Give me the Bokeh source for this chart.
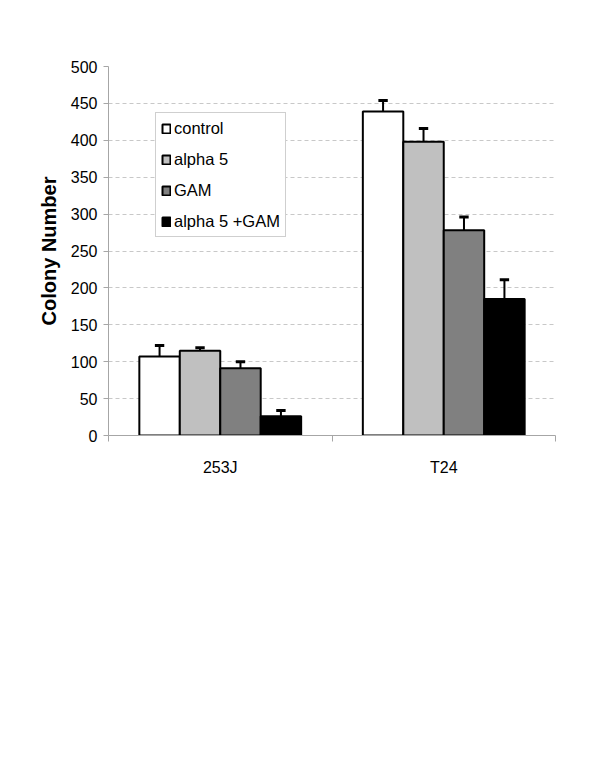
from bokeh.plotting import figure
from bokeh.models import FixedTicker, Legend, LegendItem, Range1d
from bokeh.embed import file_html
from bokeh.resources import INLINE

# ---- data ----
categories = ["253J", "T24"]
series_names = ["control", "alpha 5", "GAM", "alpha 5 +GAM"]
control_vals = [107, 439]
alpha5_vals = [115, 398]
gam_vals = [91, 278]
combo_vals = [26, 185]
control_err = [15, 15]
alpha5_err = [4, 18]
gam_err = [9, 18]
combo_err = [8, 26]
y_ticks = [0, 50, 100, 150, 200, 250, 300, 350, 400, 450, 500]

values = [control_vals, alpha5_vals, gam_vals, combo_vals]
errors = [control_err, alpha5_err, gam_err, combo_err]
colors = ["#FFFFFF", "#C0C0C0", "#808080", "#000000"]

FONT = "Liberation Sans"
AX = "#A6A6A6"

p = figure(width=592, height=507,
           x_range=Range1d(0, len(categories)), y_range=Range1d(0, 500),
           output_backend="svg", toolbar_location=None,
           min_border_left=108, min_border_right=37,
           min_border_top=66, min_border_bottom=72)
p.outline_line_color = None
p.background_fill_color = "white"
p.border_fill_color = "white"

bar_w = 0.181
offsets = [-1.5 * bar_w, -0.5 * bar_w, 0.5 * bar_w, 1.5 * bar_w]
cap = 0.021

items = []
for k, name in enumerate(series_names):
    xs = [i + 0.5 + offsets[k] for i in range(len(categories))]
    tops = [v + e for v, e in zip(values[k], errors[k])]
    p.segment(x0=xs, y0=values[k], x1=xs, y1=tops, line_color="black", line_width=2)
    p.segment(x0=[x - cap for x in xs], y0=tops, x1=[x + cap for x in xs], y1=tops,
              line_color="black", line_width=3)
    r = p.vbar(x=xs, top=values[k], bottom=0, width=bar_w,
               fill_color=colors[k], line_color="black", line_width=2)
    items.append(LegendItem(label=name, renderers=[r]))

legend = Legend(items=items, location=(47, 198))
legend.label_text_font = FONT
legend.label_text_font_size = "16.5px"
legend.label_text_color = "black"
legend.glyph_width = 10
legend.glyph_height = 11
legend.label_height = 20
legend.label_standoff = 3
legend.spacing = 11
legend.padding = 5
legend.margin = 0
legend.border_line_color = "#A0A0A0"
legend.border_line_width = 1
legend.background_fill_color = "white"
legend.background_fill_alpha = 1
p.add_layout(legend)

# grid
p.xgrid.visible = False
p.ygrid.ticker = FixedTicker(ticks=y_ticks)
p.ygrid.grid_line_color = "#C8C8C8"
p.ygrid.grid_line_dash = "4 3"
p.ygrid.grid_line_width = 1

# y axis
ya = p.yaxis[0]
ya.ticker = FixedTicker(ticks=y_ticks)
ya.axis_line_color = AX
ya.major_tick_line_color = AX
ya.major_tick_out = 5
ya.major_tick_in = 0
ya.minor_tick_line_color = None
ya.major_label_text_font = FONT
ya.major_label_text_font_size = "16px"
ya.major_label_text_color = "black"
ya.major_label_standoff = 6
ya.axis_label = "Colony Number"
ya.axis_label_text_font = FONT
ya.axis_label_text_font_style = "bold"
ya.axis_label_text_font_size = "20px"
ya.axis_label_text_color = "black"
ya.axis_label_standoff = 8

# x axis
xa = p.xaxis[0]
xa.ticker = FixedTicker(ticks=[i + 0.5 for i in range(len(categories))],
                        minor_ticks=[float(i) for i in range(len(categories) + 1)])
xa.major_label_overrides = {i + 0.5: c for i, c in enumerate(categories)}
xa.axis_line_color = AX
xa.major_tick_line_color = None
xa.major_tick_out = 0
xa.major_tick_in = 0
xa.minor_tick_line_color = AX
xa.minor_tick_out = 6
xa.minor_tick_in = 0
xa.major_label_text_font = FONT
xa.major_label_text_font_size = "16px"
xa.major_label_text_color = "black"
xa.major_label_standoff = 17

open("out.html", "w").write(file_html(p, INLINE))
